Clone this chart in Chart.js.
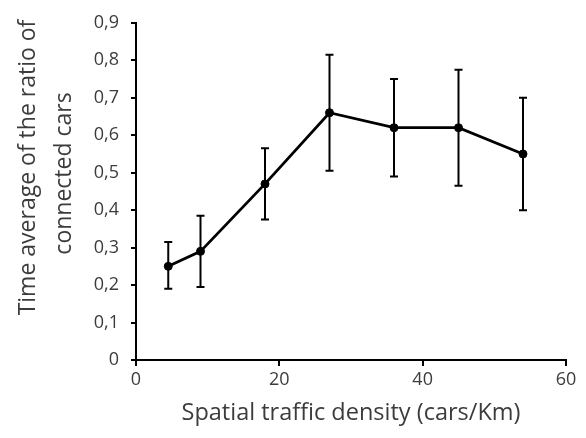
<!DOCTYPE html>
<html>
<head>
<meta charset="utf-8">
<script src="https://cdn.jsdelivr.net/npm/chart.js@4/dist/chart.umd.min.js"></script>
<style>
  html, body { margin: 0; padding: 0; background: #fff; }
  #wrap { width: 586px; height: 438px; }
</style>
</head>
<body>
<div id="wrap"><canvas id="grafica" width="586" height="438"></canvas></div>
<script>
// density (cars/Km) and measured ratio, with error bar ends
var densities = [4.5, 9, 18, 27, 36, 45, 54];
var ratios = [0.25, 0.29, 0.47, 0.66, 0.62, 0.62, 0.55];
var upper = [0.315, 0.385, 0.565, 0.815, 0.75, 0.775, 0.70];
var lower = [0.19, 0.195, 0.375, 0.505, 0.49, 0.465, 0.40];

var xTitle = 'Spatial traffic density (cars/Km)';
// leading spaces nudge each line a bit up, like the original layout
var yTitle = ['        Time average of the ratio of', '      connected cars'];

var mainData = densities.map(function (x, i) { return { x: x, y: ratios[i] }; });

// each error bar is a two-point segment, separated by a gap
var errData = [];
densities.forEach(function (x, i) {
    errData.push({ x: x, y: lower[i] }, { x: x, y: upper[i] }, { x: x, y: null });
});

var textColor = '#3c3c3c';

var ctx = document.getElementById('grafica').getContext('2d');
new Chart(ctx, {
    type: 'scatter',
    data: {
        datasets: [
            {
                data: errData,
                showLine: true,
                spanGaps: false,
                borderColor: '#000',
                borderWidth: 2,
                pointStyle: 'line',
                pointRadius: 4,
                pointBorderWidth: 2,
                pointBorderColor: '#000',
                pointHoverRadius: 4
            },
            {
                data: mainData,
                showLine: true,
                borderColor: '#000',
                borderWidth: 2.8,
                pointStyle: 'circle',
                pointRadius: 4,
                pointBackgroundColor: '#000',
                pointBorderColor: '#000',
                pointBorderWidth: 1
            }
        ]
    },
    options: {
        responsive: false,
        animation: false,
        devicePixelRatio: 1,
        layout: { padding: { top: 21, right: 20, left: 0, bottom: 0 } },
        plugins: {
            legend: { display: false },
            tooltip: { enabled: false }
        },
        scales: {
            x: {
                type: 'linear',
                min: 0,
                max: 60,
                afterFit: function (scale) { scale.height = 78; },
                ticks: {
                    stepSize: 20,
                    padding: 3,
                    color: textColor,
                    font: { family: 'Open Sans', size: 18 }
                },
                grid: {
                    display: true,
                    drawOnChartArea: false,
                    drawTicks: true,
                    tickLength: 6,
                    color: '#000',
                    lineWidth: 2
                },
                border: { display: true, color: '#000', width: 2 },
                title: {
                    display: true,
                    text: xTitle,
                    color: textColor,
                    font: { family: 'Open Sans', size: 23.5, lineHeight: 1.2 },
                    padding: { top: 0, bottom: 11 }
                }
            },
            y: {
                type: 'linear',
                min: 0,
                max: 0.9,
                afterFit: function (scale) { scale.width = 136; },
                ticks: {
                    stepSize: 0.1,
                    padding: 12,
                    color: textColor,
                    font: { family: 'Open Sans', size: 18 },
                    callback: function (v) {
                        if (v === 0) return '0';
                        return v.toFixed(1).replace('.', ',');
                    }
                },
                grid: {
                    display: true,
                    drawOnChartArea: false,
                    drawTicks: true,
                    tickLength: 5,
                    color: '#000',
                    lineWidth: 2
                },
                border: { display: true, color: '#000', width: 2 },
                title: {
                    display: true,
                    text: yTitle,
                    color: textColor,
                    font: { family: 'Open Sans', size: 23, lineHeight: 1.55 },
                    padding: { top: 11, bottom: 0 }
                }
            }
        }
    }
});
</script>
</body>
</html>
